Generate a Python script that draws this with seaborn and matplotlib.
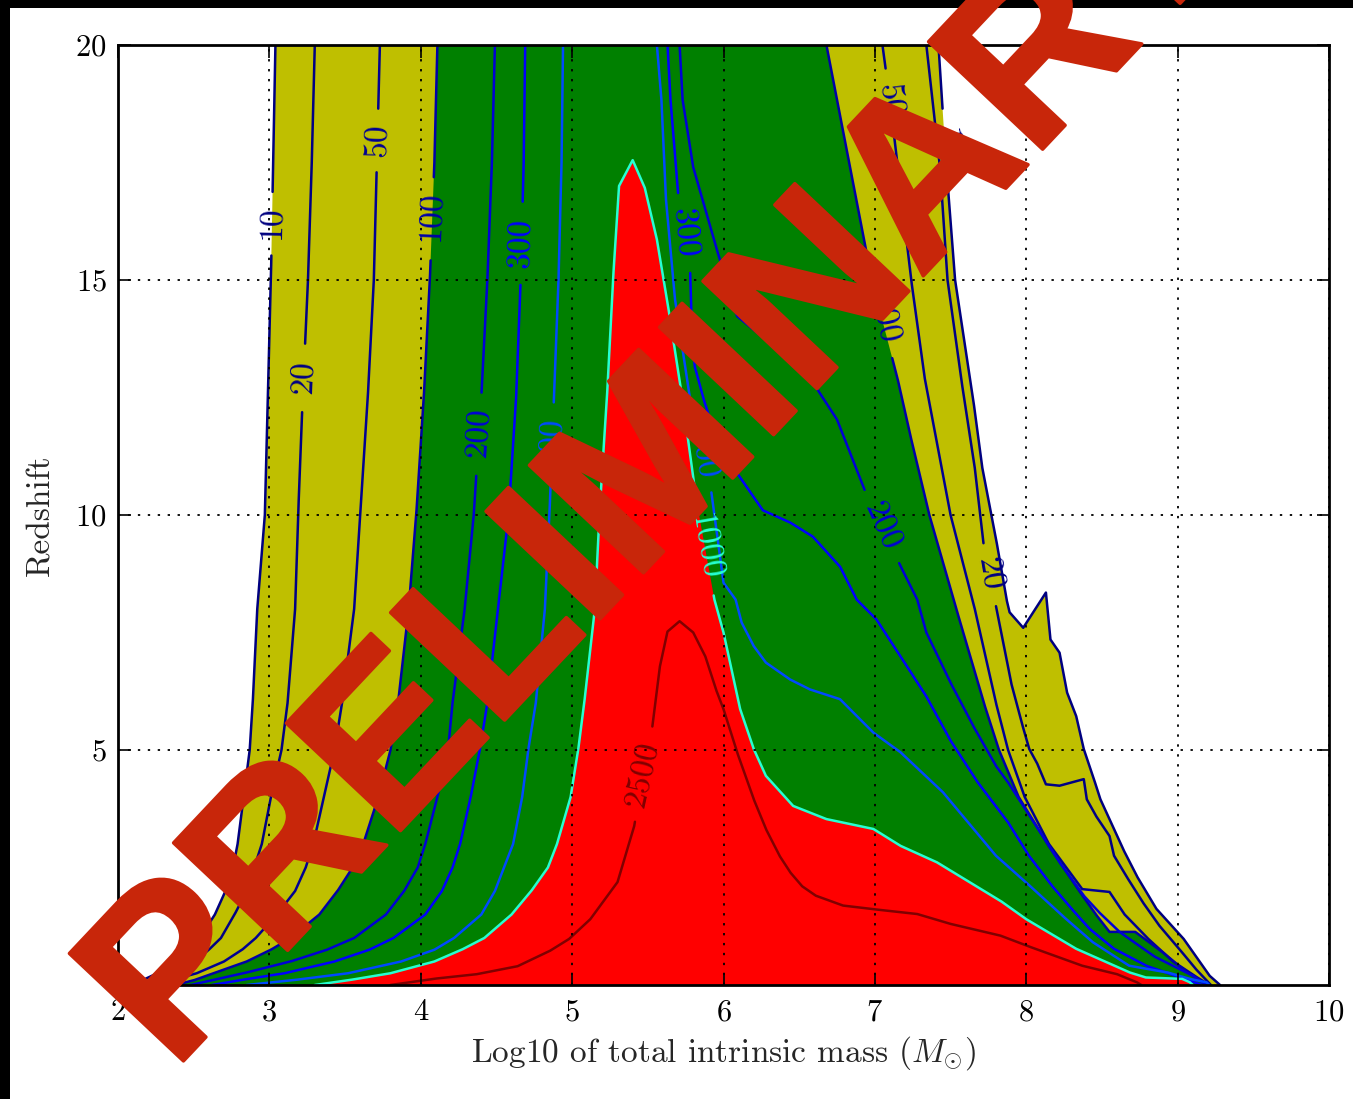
import numpy as np
import pandas as pd
import matplotlib
matplotlib.use("Agg")
import matplotlib.pyplot as plt
import seaborn as sns
from matplotlib import patheffects
from matplotlib.patches import Rectangle

# ---------------------------------------------------------------------------
# SNR contours in the (log10 mass, redshift) plane.
# Each contour level has a low-mass branch (z ascending) and a high-mass
# branch (z descending, from the top of the plot / the peak downwards).
# ---------------------------------------------------------------------------
levels = [10, 20, 50, 100, 200, 300, 500, 1000, 2500]
fill_levels = [10, 100, 1000]
fill_colors = ["#bfbf00", "#008000", "#ff0000"]

z_left = [0.0, 0.1, 0.25, 0.5, 0.75, 1.0, 1.5, 2.0, 2.5, 3.0, 4.0, 5.0, 6.0, 8.0,
          10.0, 12.5, 15.0, 17.5, 20.0]
x_left_10 = [2.13, 2.16, 2.26, 2.38, 2.47, 2.54, 2.64, 2.71, 2.76, 2.79, 2.83, 2.87,
             2.89, 2.92, 2.97, 2.99, 3.01, 3.025, 3.04]
x_left_20 = [2.20, 2.26, 2.37, 2.51, 2.60, 2.68, 2.77, 2.85, 2.90, 2.95, 3.01, 3.08,
             3.12, 3.17, 3.19, 3.22, 3.255, 3.28, 3.30]
x_left_50 = [2.25, 2.35, 2.52, 2.70, 2.82, 2.91, 3.05, 3.17, 3.24, 3.29, 3.36, 3.43,
             3.48, 3.56, 3.60, 3.65, 3.69, 3.71, 3.73]
x_left_100 = [2.38, 2.50, 2.63, 2.85, 3.01, 3.14, 3.33, 3.45, 3.55, 3.62, 3.72, 3.80,
              3.85, 3.92, 3.97, 4.02, 4.06, 4.09, 4.11]
x_left_200 = [2.48, 2.62, 2.83, 3.14, 3.38, 3.56, 3.77, 3.89, 3.98, 4.03, 4.11, 4.18,
              4.21, 4.29, 4.35, 4.40, 4.44, 4.47, 4.49]
x_left_300 = [2.62, 2.80, 3.10, 3.43, 3.66, 3.82, 4.03, 4.14, 4.21, 4.26, 4.33, 4.39,
              4.44, 4.51, 4.58, 4.63, 4.66, 4.68, 4.69]
x_left_500 = [2.85, 3.15, 3.52, 3.87, 4.09, 4.22, 4.40, 4.49, 4.55, 4.61, 4.67, 4.71,
              4.76, 4.82, 4.85, 4.88, 4.91, 4.93, 4.94]

z_left_1000 = [0.0, 0.1, 0.25, 0.5, 0.75, 1.0, 1.5, 2.0, 2.5, 3.0, 4.0, 5.0, 6.0, 8.0,
               10.0, 12.5, 15.0, 17.0, 17.55]
x_left_1000 = [3.30, 3.52, 3.80, 4.09, 4.27, 4.42, 4.60, 4.73, 4.84, 4.90, 4.99, 5.04,
               5.08, 5.15, 5.18, 5.23, 5.27, 5.31, 5.40]
z_left_2500 = [0.0, 0.06, 0.13, 0.23, 0.40, 0.72, 0.98, 1.40, 2.19, 3.38, 4.5, 5.50,
               6.78, 7.52, 7.74]
x_left_2500 = [3.80, 3.93, 4.08, 4.37, 4.64, 4.85, 4.98, 5.12, 5.30, 5.41, 5.47, 5.53,
               5.58, 5.63, 5.71]

z_right_10 = [20.0, 17.5, 15.0, 12.45, 11.0, 9.5, 8.2, 7.93, 7.60, 8.35, 7.35, 7.07,
              6.22, 5.72, 5.02, 4.45, 3.95, 2.89, 2.32, 1.62, 0.98, 0.48, 0.20, 0.06, 0.0]
x_right_10 = [7.42, 7.47, 7.53, 7.65, 7.71, 7.80, 7.87, 7.89, 7.98, 8.13, 8.16, 8.22,
              8.27, 8.33, 8.38, 8.44, 8.49, 8.64, 8.73, 8.86, 9.04, 9.15, 9.21, 9.26, 9.28]
z_right_20 = [20.0, 18.83, 17.4, 15.0, 12.9, 11.0, 9.33, 8.06, 6.43, 5.58, 5.02, 4.73,
              4.27, 4.24, 4.38, 3.95, 3.60, 3.17, 2.75, 2.32, 1.76, 1.26, 0.77, 0.34, 0.0]
x_right_20 = [7.34, 7.38, 7.43, 7.48, 7.57, 7.66, 7.72, 7.80, 7.90, 7.97, 8.02, 8.07,
              8.13, 8.22, 8.38, 8.40, 8.46, 8.55, 8.58, 8.66, 8.77, 8.88, 9.01, 9.12, 9.22]
z_right_50 = [20.0, 18.8, 15.0, 12.9, 10.0, 8.0, 6.0, 5.0, 4.0, 3.0, 2.04, 1.98, 1.5,
              1.0, 0.5, 0.2, 0.0]
x_right_50 = [7.05, 7.10, 7.24, 7.33, 7.50, 7.66, 7.80, 7.88, 7.99, 8.15, 8.37, 8.55,
              8.65, 8.80, 8.97, 9.11, 9.21]
z_right_100 = [20.0, 15.0, 12.9, 11.75, 10.0, 8.2, 6.0, 5.0, 4.0, 3.0, 2.0, 1.5, 1.13,
               1.13, 0.7, 0.3, 0.1, 0.0]
x_right_100 = [6.68, 6.98, 7.15, 7.23, 7.36, 7.52, 7.72, 7.82, 7.95, 8.14, 8.35, 8.46,
               8.55, 8.72, 8.90, 9.05, 9.14, 9.20]
z_right_200 = [20.0, 18.83, 17.4, 15.71, 14.23, 13.02, 12.03, 10.47, 8.91, 8.20, 7.50,
               6.43, 5.51, 4.66, 4.31, 3.46, 2.61, 1.90, 1.55, 1.12, 0.6, 0.2, 0.0]
x_right_200 = [5.71, 5.73, 5.80, 5.95, 6.09, 6.55, 6.75, 6.94, 7.17, 7.28, 7.34, 7.50,
               7.65, 7.80, 7.88, 8.05, 8.22, 8.38, 8.48, 8.62, 8.85, 9.10, 9.19]
z_right_300 = [20.0, 18.83, 16.85, 15.15, 14.0, 13.16, 12.45, 11.75, 11.03, 10.1, 9.84,
               9.54, 8.9, 8.2, 7.78, 6.99, 6.14, 5.2, 4.31, 3.46, 2.74, 2.11, 1.62, 1.19,
               0.77, 0.4, 0.15, 0.0]
x_right_300 = [5.63, 5.65, 5.70, 5.78, 5.79, 5.81, 5.87, 5.94, 6.06, 6.26, 6.44, 6.59,
               6.77, 6.88, 7.01, 7.17, 7.34, 7.50, 7.68, 7.88, 8.02, 8.17, 8.30, 8.42,
               8.58, 8.80, 9.03, 9.16]
z_right_500 = [20.0, 18.83, 16.71, 14.58, 12.45, 10.48, 8.56, 8.20, 7.71, 7.21, 6.86,
               6.50, 6.29, 6.08, 5.37, 4.95, 4.10, 3.25, 2.75, 2.18, 1.47, 0.91, 0.41,
               0.27, 0.13, 0.06, 0.0]
x_right_500 = [5.56, 5.59, 5.62, 5.68, 5.78, 5.92, 6.00, 6.08, 6.12, 6.20, 6.28, 6.44,
               6.57, 6.77, 6.99, 7.17, 7.45, 7.67, 7.80, 8.00, 8.24, 8.44, 8.68, 8.93,
               9.08, 9.19, 9.21]
z_right_1000 = [16.96, 15.86, 14.52, 12.45, 10.33, 8.2, 7.5, 5.87, 5.02, 4.45, 3.81,
                3.53, 3.32, 2.96, 2.61, 2.18, 1.79, 1.40, 0.77, 0.27, 0.16, 0.13, 0.06, 0.0]
x_right_1000 = [5.48, 5.56, 5.63, 5.73, 5.82, 5.94, 6.00, 6.11, 6.20, 6.28, 6.46, 6.68,
                6.99, 7.17, 7.41, 7.63, 7.83, 8.00, 8.33, 8.68, 8.79, 9.03, 9.08, 9.10]
z_right_2500 = [7.50, 6.99, 6.29, 5.87, 4.95, 3.95, 3.32, 2.75, 2.40, 2.10, 1.90, 1.69,
                1.62, 1.55, 1.51, 1.30, 1.05, 0.84, 0.41, 0.23, 0.06, 0.0]
x_right_2500 = [5.80, 5.88, 5.95, 6.00, 6.09, 6.20, 6.28, 6.37, 6.44, 6.52, 6.61, 6.79,
                6.97, 7.17, 7.28, 7.50, 7.83, 8.00, 8.37, 8.60, 8.73, 8.76]

# inline contour labels: (level, branch, redshift of label centre)
label_levels = [10, 20, 50, 100, 200, 300, 500, 2500, 300, 500, 1000, 200, 100, 50, 20, 10]
label_sides = ["L", "L", "L", "L", "L", "L", "L", "L", "R", "R", "R", "R", "R", "R", "R", "R"]
label_z = [16.2, 12.94, 17.98, 16.34, 11.75, 15.79, 11.54, 4.48,
           16.0, 11.3, 9.33, 9.76, 14.16, 18.83, 8.74, 17.9]

x_ticks = [2, 3, 4, 5, 6, 7, 8, 9, 10]
y_ticks = [5, 10, 15, 20]

# ---------------------------------------------------------------------------
branches = {
    (10, "L"): (x_left_10, z_left), (20, "L"): (x_left_20, z_left),
    (50, "L"): (x_left_50, z_left), (100, "L"): (x_left_100, z_left),
    (200, "L"): (x_left_200, z_left), (300, "L"): (x_left_300, z_left),
    (500, "L"): (x_left_500, z_left), (1000, "L"): (x_left_1000, z_left_1000),
    (2500, "L"): (x_left_2500, z_left_2500),
    (10, "R"): (x_right_10, z_right_10), (20, "R"): (x_right_20, z_right_20),
    (50, "R"): (x_right_50, z_right_50), (100, "R"): (x_right_100, z_right_100),
    (200, "R"): (x_right_200, z_right_200), (300, "R"): (x_right_300, z_right_300),
    (500, "R"): (x_right_500, z_right_500), (1000, "R"): (x_right_1000, z_right_1000),
    (2500, "R"): (x_right_2500, z_right_2500),
}

sns.set_theme(style="ticks")
plt.rcParams.update({
    "font.family": "cmr10",
    "mathtext.fontset": "cm",
    "axes.unicode_minus": False,
    "axes.formatter.use_mathtext": True,
})

W, H = 1353, 1099
fig = plt.figure(figsize=(W / 100, H / 100), dpi=100)
fig.patch.set_facecolor("black")
fig.add_artist(Rectangle((10 / W, 0), 1, (H - 8) / H, transform=fig.transFigure,
                         facecolor="white", edgecolor="none", zorder=-1))

ax = fig.add_axes([118 / W, 1 - 985 / H, (1329 - 118) / W, (985 - 45) / H])
ax.set_xlim(2, 10)
ax.set_ylim(0, 20)
ax.set_facecolor("white")

cmap = plt.get_cmap("jet")
norm = plt.Normalize(min(levels), max(levels))
line_color = {lev: cmap(norm(lev)) for lev in levels}


def polygon(level):
    xl, zl = branches[(level, "L")]
    xr, zr = branches[(level, "R")]
    return np.r_[xl, xr], np.r_[zl, zr]


# filled bands: >=10 yellow, >=100 green, >=1000 red
for lev, col in zip(fill_levels, fill_colors):
    px, pz = polygon(lev)
    ax.fill(px, pz, color=col, lw=0, zorder=1)


def lines_of(level):
    xl, zl = branches[(level, "L")]
    xr, zr = branches[(level, "R")]
    if level in (1000, 2500):
        return [(np.r_[xl, xr], np.r_[zl, zr])]
    return [(np.asarray(xl, float), np.asarray(zl, float)),
            (np.asarray(xr, float), np.asarray(zr, float))]


def densify(x, z, n=24):
    x = np.asarray(x, float)
    z = np.asarray(z, float)
    t = np.linspace(0, 1, n, endpoint=False)
    xs = [x[i] + (x[i + 1] - x[i]) * t for i in range(len(x) - 1)]
    zs = [z[i] + (z[i + 1] - z[i]) * t for i in range(len(z) - 1)]
    return np.r_[np.concatenate(xs), x[-1]], np.r_[np.concatenate(zs), z[-1]]


def locate(x, z, zc):
    for i in range(len(z) - 1):
        z0, z1 = z[i], z[i + 1]
        if z0 != z1 and min(z0, z1) <= zc <= max(z0, z1):
            t = (zc - z0) / (z1 - z0)
            xc = x[i] + t * (x[i + 1] - x[i])
            a = ax.transData.transform((x[max(i - 1, 0)], z[max(i - 1, 0)]))
            b = ax.transData.transform((x[min(i + 2, len(x) - 1)], z[min(i + 2, len(z) - 1)]))
            ang = np.degrees(np.arctan2(b[1] - a[1], b[0] - a[0]))
            return xc, ang
    raise ValueError


label_fs = 24
px_per_pt = 100 / 72
cuts = {lev: [] for lev in levels}
for lev, side, zc in zip(label_levels, label_sides, label_z):
    x, z = branches[(lev, side)]
    xc, ang = locate(x, z, zc)
    txt = str(lev)
    ax.text(xc, zc, txt, rotation=ang, rotation_mode="anchor", ha="center",
            va="center", fontsize=label_fs, color=line_color[lev], zorder=4)
    radius = len(txt) * 0.5 * label_fs * px_per_pt / 2 + 14
    cuts[lev].append((ax.transData.transform((xc, zc)), radius))

rows = []
seg_id = 0
for lev in levels:
    for x, z in lines_of(lev):
        dx, dz = densify(x, z)
        pts = ax.transData.transform(np.c_[dx, dz])
        keep = np.ones(len(dx), bool)
        for centre, r in cuts[lev]:
            keep &= np.hypot(pts[:, 0] - centre[0], pts[:, 1] - centre[1]) > r
        run_start = None
        for k in range(len(dx) + 1):
            inside = k < len(dx) and keep[k]
            if inside and run_start is None:
                run_start = k
            elif not inside and run_start is not None:
                if k - run_start > 1:
                    for j in range(run_start, k):
                        rows.append((lev, seg_id, dx[j], dz[j]))
                    seg_id += 1
                run_start = None

lines_df = pd.DataFrame(rows, columns=["level", "seg", "x", "z"])
for lev in levels:
    sub = lines_df[lines_df["level"] == lev]
    sns.lineplot(data=sub, x="x", y="z", units="seg", estimator=None, sort=False,
                 color=line_color[lev], linewidth=1.8, ax=ax, legend=False, zorder=2)

ax.set_xlim(2, 10)
ax.set_ylim(0, 20)
ax.set_xticks(x_ticks)
ax.set_yticks(y_ticks)
ax.tick_params(direction="in", length=9, width=1.2, top=True, right=True,
               labelsize=22, colors="black")
ax.tick_params(axis="x", pad=10)
ax.tick_params(axis="y", pad=8)
ax.set_axisbelow(False)
ax.grid(True, color="black", linestyle=(0, (1.3, 4.2)), linewidth=1.3)
for sp in ax.spines.values():
    sp.set_linewidth(2.0)
    sp.set_color("black")
    sp.set_zorder(5)

ax.set_xlabel(r"Log10 of total intrinsic mass ($M_{\odot}$)", fontsize=24)
ax.set_ylabel("Redshift", fontsize=24)
ax.xaxis.set_label_coords(0.5, -0.052)
ax.yaxis.set_label_coords(-0.052, 0.5)

wm_color = "#c8260a"
fig.text(173 / W, 1 - 1072 / H, "PRELIMINARY", rotation=46.7, rotation_mode="anchor",
         ha="left", va="baseline", fontsize=164, fontweight="bold",
         family=["Liberation Sans", "DejaVu Sans"], color=wm_color, zorder=20,
         path_effects=[patheffects.withStroke(linewidth=2.5, foreground=wm_color,
                                              joinstyle="round", capstyle="round")])

fig.savefig("out.png", dpi=100, facecolor=fig.get_facecolor())
